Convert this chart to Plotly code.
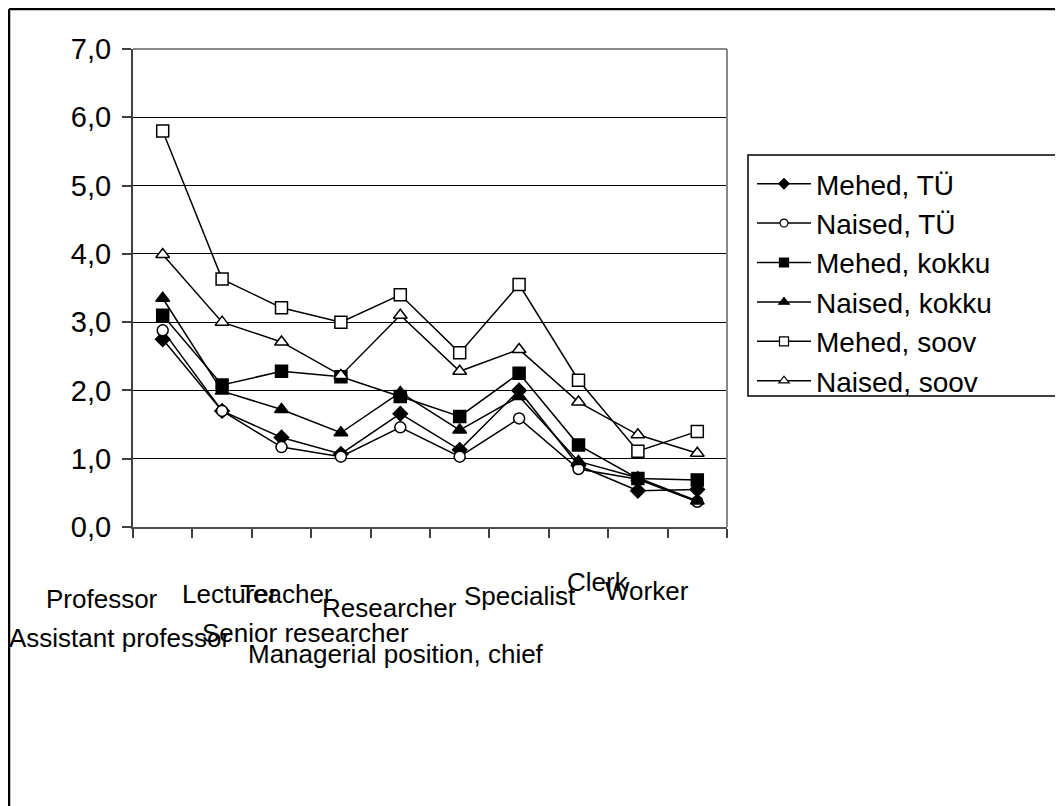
import plotly.graph_objects as go

categories = ["Professor", "Assistant professor", "Lecturer", "Teacher",
              "Senior researcher", "Managerial position, chief", "Researcher",
              "Specialist", "Clerk", "Worker"]

mehed_tu = [2.75, 1.70, 1.31, 1.07, 1.66, 1.13, 2.00, 0.90, 0.53, 0.55]
naised_tu = [2.88, 1.70, 1.17, 1.03, 1.46, 1.03, 1.59, 0.85, 0.70, 0.37]
mehed_kokku = [3.10, 2.08, 2.28, 2.20, 1.91, 1.62, 2.25, 1.20, 0.71, 0.69]
naised_kokku = [3.35, 1.99, 1.72, 1.38, 1.97, 1.42, 1.91, 0.96, 0.72, 0.38]
mehed_soov = [5.80, 3.63, 3.21, 3.00, 3.40, 2.55, 3.55, 2.15, 1.11, 1.40]
naised_soov = [3.99, 3.00, 2.71, 2.22, 3.10, 2.28, 2.60, 1.83, 1.35, 1.08]

series_names = ["Mehed, TÜ", "Naised, TÜ", "Mehed, kokku", "Naised, kokku",
                "Mehed, soov", "Naised, soov"]
series_values = [mehed_tu, naised_tu, mehed_kokku, naised_kokku, mehed_soov, naised_soov]

# styling (not data)
symbols = ["diamond", "circle", "square", "triangle-up", "square", "triangle-up"]
fills = ["black", "white", "black", "black", "white", "white"]
plot_sizes = [11, 11, 12, 12, 12, 12]
legend_sizes = [8, 8, 9, 9, 9, 9]

# label placement (center in category units, vertical center in px below the axis)
label_x = [-1.03, -0.73, 1.13, 2.09, 2.41, 3.92, 3.82, 6.02, 7.32, 8.16]
label_dy = [72, 111, 67, 67, 106, 127, 81, 69, 55, 64]

FONT = "Liberation Sans, Arial, sans-serif"

fig = go.Figure()
xs = list(range(len(categories)))
for name, vals, sym, sz, fc in zip(series_names, series_values, symbols, plot_sizes, fills):
    fig.add_trace(go.Scatter(
        x=xs, y=vals, mode="lines+markers", name=name, showlegend=False,
        line=dict(color="black", width=1.5),
        marker=dict(symbol=sym, size=sz, color=fc, line=dict(color="black", width=1.5)),
    ))
for name, sym, sz, fc in zip(series_names, symbols, legend_sizes, fills):
    fig.add_trace(go.Scatter(
        x=[None], y=[None], mode="lines+markers", name=name,
        line=dict(color="black", width=1.5),
        marker=dict(symbol=sym, size=sz, color=fc, line=dict(color="black", width=1.2)),
    ))

W, H = 1055, 798
L, T = 125, 41
pw, ph = 594, 478
R = W - L - pw
B = H - T - ph

annotations = []
for lab, lx, dy in zip(categories, label_x, label_dy):
    annotations.append(dict(
        x=(lx + 0.5) / 10, y=0, xref="paper", yref="paper", text=lab, showarrow=False,
        xanchor="center", yanchor="middle", yshift=-dy,
        font=dict(family=FONT, size=26, color="black"),
    ))

def px_x(fx):
    return (fx - L) / pw

def px_y(fy):
    return (T + ph - fy) / ph

bx, by = px_x(1), px_y(1)
shapes = [
    dict(type="line", xref="paper", yref="paper", x0=1, x1=1, y0=0, y1=1,
         line=dict(color="#888888", width=2)),
    dict(type="line", xref="paper", yref="paper", x0=0, x1=1, y0=1, y1=1,
         line=dict(color="#888888", width=2)),
    dict(type="line", xref="paper", yref="paper", x0=bx, x1=bx, y0=by, y1=-1,
         line=dict(color="black", width=2.5)),
    dict(type="line", xref="paper", yref="paper", x0=bx, x1=2, y0=by, y1=by,
         line=dict(color="black", width=2.5)),
    dict(type="rect", xref="paper", yref="paper", x0=px_x(740), x1=px_x(1075),
         y0=px_y(388), y1=px_y(147), line=dict(color="black", width=1.5),
         fillcolor="rgba(0,0,0,0)"),
]

fig.update_layout(
    width=W, height=H,
    margin=dict(l=L, r=R, t=T, b=B, autoexpand=False),
    paper_bgcolor="white", plot_bgcolor="white",
    separators=",.",
    font=dict(family=FONT, size=26, color="black"),
    xaxis=dict(range=[-0.5, 9.5], tickvals=[i - 0.5 for i in range(11)],
               showticklabels=False, ticks="outside", ticklen=9, tickwidth=1.5,
               tickcolor="#404040", showgrid=False, zeroline=False,
               showline=True, linecolor="#505050", linewidth=2),
    yaxis=dict(range=[0, 7], tickvals=list(range(8)), tickformat=".1f",
               ticks="outside", ticklen=9, tickwidth=1.5, tickcolor="#404040",
               ticklabelstandoff=5,
               showgrid=True, gridcolor="black", gridwidth=1, zeroline=False,
               showline=True, linecolor="#404040", linewidth=2,
               tickfont=dict(family=FONT, size=29, color="black")),
    legend=dict(x=px_x(744), y=px_y(151), xanchor="left", yanchor="top",
                borderwidth=0, bgcolor="rgba(0,0,0,0)",
                font=dict(family=FONT, size=28, color="black"),
                itemwidth=54, tracegroupgap=0),
    annotations=annotations,
    shapes=shapes,
)

fig.write_html("out.html")
